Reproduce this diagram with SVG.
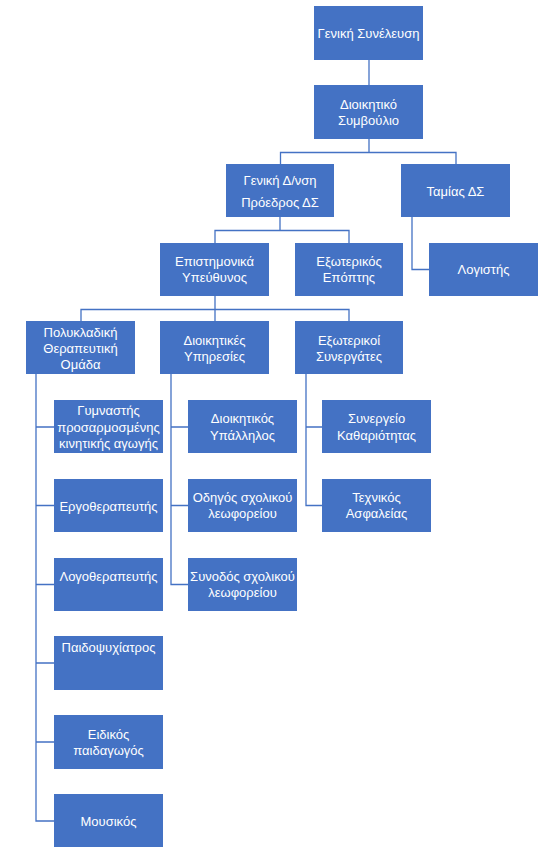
<svg xmlns="http://www.w3.org/2000/svg" width="553" height="853" viewBox="0 0 553 853">
<style>
.b{fill:#4472C4}
.t{fill:#fff;font-family:"Liberation Sans","Noto Sans",sans-serif;font-size:13px;text-anchor:middle;dominant-baseline:central}
.c{fill:none;stroke:#4472C4;stroke-width:1.3}
</style>
<rect width="553" height="853" fill="#fff"/>
<g id="connectors">
<path class="c" d="M369 60V85"/>
<path class="c" d="M369 139V152.5H280.5V164M369 152.5H456V164"/>
<path class="c" d="M280 217V230.5H215V243M280 230.5H349V243"/>
<path class="c" d="M412 217V269.5H429"/>
<path class="c" d="M215 296V309.5H81V321M215 309.5V321M215 309.5H349V321"/>
<path class="c" d="M36 374V821H54M36 427H54M36 505.5H54M36 584.5H54M36 663H54M36 742H54"/>
<path class="c" d="M171 374V584.5H188M171 427H188M171 505.5H188"/>
<path class="c" d="M306 374V505.5H322M306 427H322"/>
</g>
<g id="n1"><rect class="b" x="314" y="6" width="109" height="54"/><text class="t" x="368.5" y="33">Γενική Συνέλευση</text></g>
<g id="n2"><rect class="b" x="314" y="85" width="109" height="54"/><text class="t" x="368.5" y="104">Διοικητικό</text><text class="t" x="368.5" y="120">Συμβούλιο</text></g>
<g id="n3"><rect class="b" x="226" y="164" width="108" height="53"/><text class="t" x="280" y="180">Γενική Δ/νση</text><text class="t" x="280" y="202">Πρόεδρος ΔΣ</text></g>
<g id="n4"><rect class="b" x="401" y="164" width="109" height="53"/><text class="t" x="455.5" y="191">Ταμίας ΔΣ</text></g>
<g id="n5"><rect class="b" x="160" y="243" width="109" height="53"/><text class="t" x="214.5" y="261">Επιστημονικά</text><text class="t" x="214.5" y="277">Υπεύθυνος</text></g>
<g id="n6"><rect class="b" x="295" y="243" width="108" height="53"/><text class="t" x="349" y="261">Εξωτερικός</text><text class="t" x="349" y="277">Επόπτης</text></g>
<g id="n7"><rect class="b" x="429" y="243" width="109" height="53"/><text class="t" x="483.5" y="269.5">Λογιστής</text></g>
<g id="n8"><rect class="b" x="26" y="321" width="109" height="53"/><text class="t" x="80.5" y="332">Πολυκλαδική</text><text class="t" x="80.5" y="348">Θεραπευτική</text><text class="t" x="80.5" y="364">Ομάδα</text></g>
<g id="n9"><rect class="b" x="160" y="321" width="109" height="53"/><text class="t" x="214.5" y="340">Διοικητικές</text><text class="t" x="214.5" y="356">Υπηρεσίες</text></g>
<g id="n10"><rect class="b" x="295" y="321" width="108" height="53"/><text class="t" x="349" y="340">Εξωτερικοί</text><text class="t" x="349" y="356">Συνεργάτες</text></g>
<g id="n11"><rect class="b" x="54" y="400" width="109" height="53"/><text class="t" x="108.5" y="410">Γυμναστής</text><text class="t" x="108.5" y="427">προσαρμοσμένης</text><text class="t" x="108.5" y="443">κινητικής αγωγής</text></g>
<g id="n12"><rect class="b" x="54" y="479" width="109" height="53"/><text class="t" x="108.5" y="506">Εργοθεραπευτής</text></g>
<g id="n13"><rect class="b" x="54" y="558" width="109" height="53"/><text class="t" x="108.5" y="576">Λογοθεραπευτής</text></g>
<g id="n14"><rect class="b" x="54" y="636" width="109" height="54"/><text class="t" x="108.5" y="647">Παιδοψυχίατρος</text></g>
<g id="n15"><rect class="b" x="54" y="715" width="109" height="54"/><text class="t" x="108.5" y="734">Ειδικός</text><text class="t" x="108.5" y="750">παιδαγωγός</text></g>
<g id="n16"><rect class="b" x="54" y="794" width="109" height="53"/><text class="t" x="108.5" y="821">Μουσικός</text></g>
<g id="n17"><rect class="b" x="188" y="400" width="109" height="53"/><text class="t" x="242.5" y="418">Διοικητικός</text><text class="t" x="242.5" y="435">Υπάλληλος</text></g>
<g id="n18"><rect class="b" x="188" y="479" width="109" height="53"/><text class="t" x="242.5" y="497">Οδηγός σχολικού</text><text class="t" x="242.5" y="513">λεωφορείου</text></g>
<g id="n19"><rect class="b" x="188" y="558" width="109" height="53"/><text class="t" x="242.5" y="576">Συνοδός σχολικού</text><text class="t" x="242.5" y="592">λεωφορείου</text></g>
<g id="n20"><rect class="b" x="322" y="400" width="109" height="53"/><text class="t" x="376.5" y="418">Συνεργείο</text><text class="t" x="376.5" y="435">Καθαριότητας</text></g>
<g id="n21"><rect class="b" x="322" y="479" width="109" height="53"/><text class="t" x="376.5" y="497">Τεχνικός</text><text class="t" x="376.5" y="513">Ασφαλείας</text></g>
</svg>
